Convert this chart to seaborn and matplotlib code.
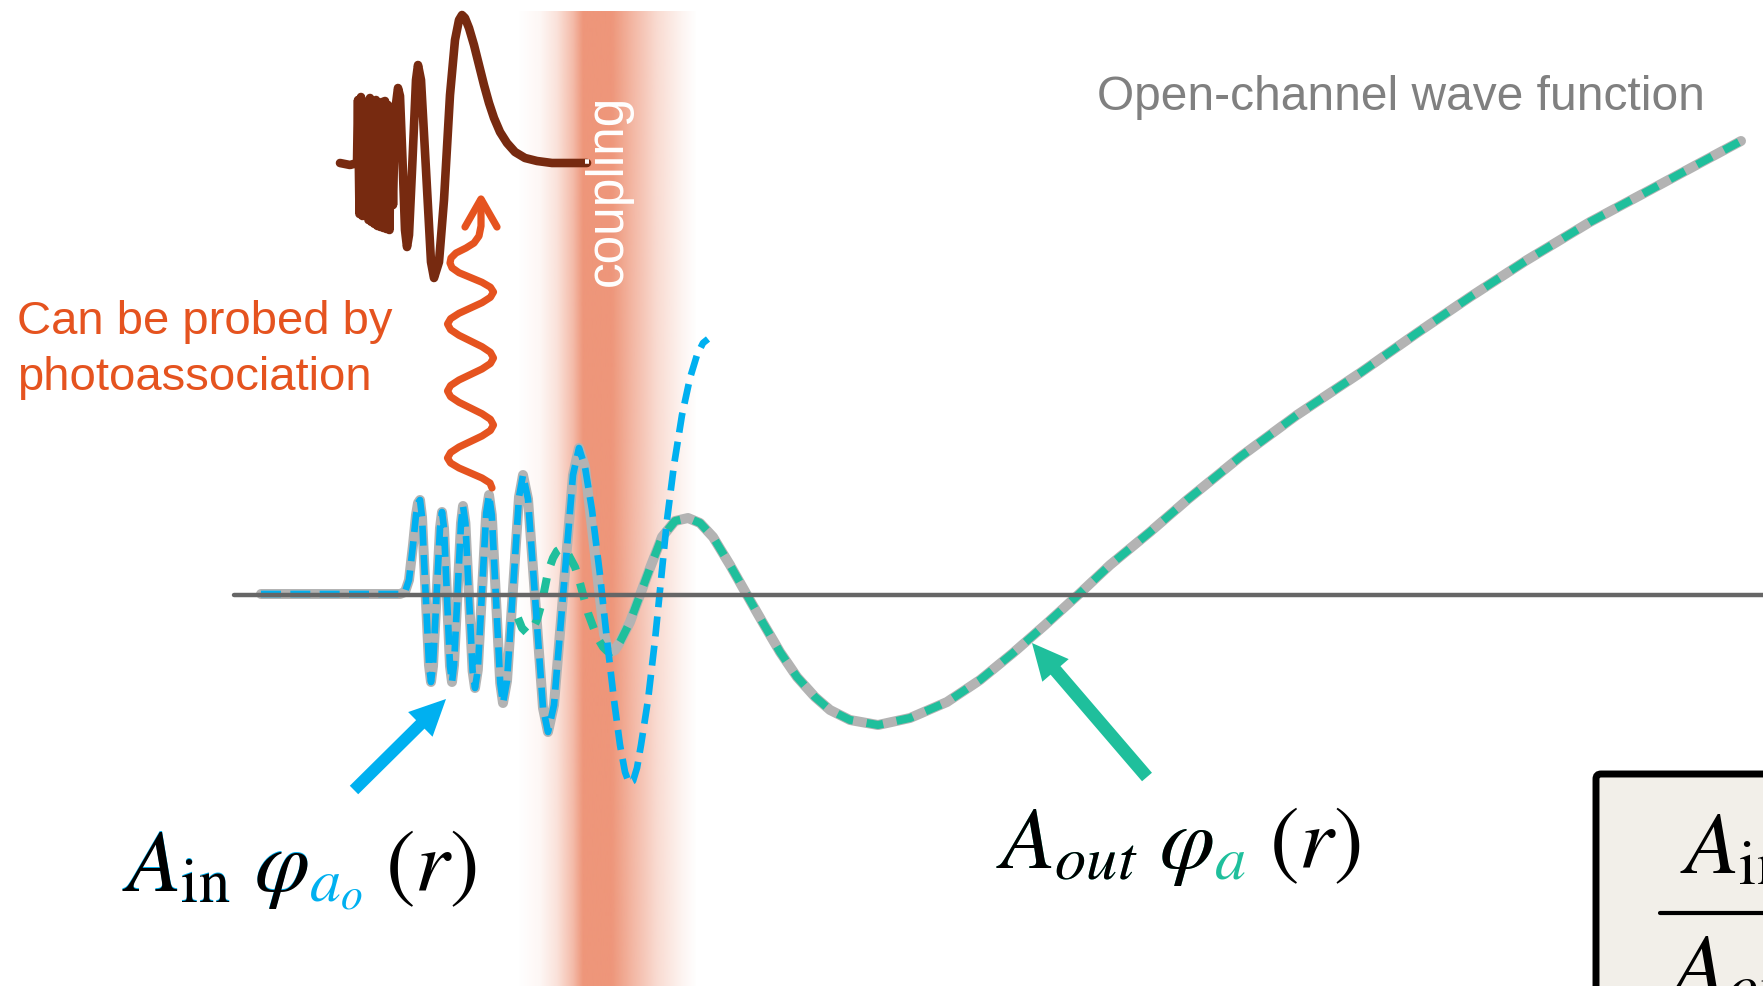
import numpy as np
import pandas as pd
import matplotlib
matplotlib.use("Agg")
import matplotlib.pyplot as plt
import seaborn as sns
from matplotlib.patches import FancyBboxPatch

# All values in image pixels (x to the right, y down)

# horizontal r axis
axis_x = [234, 1763]
axis_y = [595, 595]

# inner oscillations shared by the open-channel curve (grey) and phi_a0 (blue)
core_x = [261, 400, 405, 409, 413, 416, 418, 420,
          422, 425.5, 429, 431,
          433, 436.5, 440, 442,
          444, 447, 450, 452,
          454, 457.5, 461, 463,
          465.4, 469, 472.6, 475,
          477.8, 482, 486.2, 489,
          491.8, 496, 500.2, 503,
          507, 513, 519, 523,
          528, 535.5, 543, 548,
          554, 563.5, 573, 579,
          585]
core_y = [594, 594, 592, 580, 545, 515, 503, 500,
          517, 591, 665, 682,
          666, 597, 528, 512,
          528, 597, 666, 682,
          665, 594, 523, 506,
          523, 597, 671, 688,
          670, 591.5, 513, 495,
          515, 599, 683, 703,
          681, 589, 497, 475,
          499, 603.5, 708, 732,
          705, 590, 475, 448,
          467]

# open-channel wave function beyond the last inner peak
grey_tail_x = [594.5, 604, 607, 611, 615, 620, 630, 640, 650, 662, 675, 688,
               700, 713, 730, 747, 763, 780, 797, 815, 830, 850, 878,
               910, 947, 980, 1013, 1045, 1078, 1110, 1150, 1187, 1240,
               1297, 1360, 1417, 1470, 1527, 1590, 1650, 1700, 1741]
grey_tail_y = [550, 634, 645, 652, 650, 642, 622, 595, 568, 537, 521, 518,
               523, 537, 565, 595, 623, 652, 677, 697, 710, 720, 725,
               718, 702, 680, 653, 625, 595, 565, 532, 500, 457,
               415, 373, 333, 297, 260, 222, 190, 163, 141]

# phi_a0 beyond the last inner peak (blue dashed)
blue_tail_x = [592, 600, 607, 614, 620, 625, 629, 633, 637, 641, 648, 655,
               661, 667, 674, 682, 690, 697, 703, 708]
blue_tail_y = [510, 575, 640, 700, 745, 772, 783, 781, 768, 745, 700, 640,
               580, 520, 465, 415, 378, 355, 343, 339]

# phi_a start (green dashed), joins the grey curve at its trough
green_head_x = [518, 522, 527, 532, 537, 542, 548, 553, 557, 562, 568, 575,
                580, 588, 597, 603, 607]
green_head_y = [618, 628, 633, 630, 620, 602, 572, 558, 551, 548, 554, 567,
                583, 613, 637, 647, 651]

# closed-channel bound state (brown)
bound_x = [340, 350, 357, 358,
           359.5, 361, 362.5, 364, 365.5, 367, 368.5, 370, 371.5, 373,
           374.5, 376, 377.5, 379, 380.5, 382, 383.5, 385, 386.5, 388,
           389.5, 391, 393, 395, 398,
           400, 402.5, 405, 407, 409, 412.5, 416, 418,
           421, 426, 431, 434, 439, 444, 450, 455, 459, 462,
           465, 469, 474, 479, 484, 489, 494, 500, 507, 515, 525, 537,
           552, 587]
bound_y = [163, 165, 163, 100,
           214, 97, 216, 105, 214, 110, 220, 98, 222, 103,
           224, 100, 226, 104, 227, 102, 228, 101, 229, 105,
           230, 112, 205, 112, 88,
           96, 160, 230, 247, 235, 160, 80, 65,
           80, 170, 262, 278, 262, 200, 95, 40, 20, 15,
           18, 28, 45, 65, 85, 103, 118, 132, 143, 152, 158, 161,
           163, 163]

# photoassociation photon (orange wavy arrow), bottom to top
photon_x = [492, 490, 482, 470.5, 459, 450.6, 447.5,
            450.6, 459, 470.5, 482, 490.4, 493.5,
            490.4, 482, 470.5, 459, 450.6, 447.5,
            450.6, 459, 470.5, 482, 490.4, 493.5,
            490.4, 482, 470.5, 459, 450.6, 447.5,
            450.6, 459, 470.5, 482, 490.4, 493.5,
            490.4, 482, 470.5, 459, 452, 450,
            451, 456, 466, 474, 479, 481, 481, 481]
photon_y = [488, 483, 478, 473, 468, 463, 458,
            452.5, 447, 441.5, 436, 430.5, 425,
            419.3, 413.7, 408, 402.3, 396.7, 391,
            385.5, 380, 374.5, 369, 363.5, 358,
            352.3, 346.7, 341, 335.3, 329.7, 324,
            318.7, 313.3, 308, 302.7, 297.3, 292,
            287.2, 282.3, 277.5, 272.7, 267.8, 263,
            258, 253, 248, 243, 236, 226, 212, 200]
photon_head_x = [465, 481, 497]
photon_head_y = [227, 199, 227]

# coupling band opacity profile
band_x = [518, 540, 557, 573, 583, 612, 632, 657, 683, 697]
band_alpha = [0, 0.08, 0.28, 0.65, 1, 1, 0.7, 0.35, 0.1, 0]

# arrows (tail, tip)
blue_arrow = [(354, 790), (446, 699)]
green_arrow = [(1147, 777), (1032, 643)]

GREY = "#B3B3B3"
BLUE = "#00B0F0"
GREEN = "#1FBF9C"
BROWN = "#772A10"
ORANGE = "#E5531F"
BAND = "#EE967A"

sns.set_theme(style="white")
plt.rcParams["font.family"] = ["Liberation Sans", "DejaVu Sans"]
plt.rcParams["mathtext.fontset"] = "stix"

W, H = 1763, 986
fig = plt.figure(figsize=(W / 100, H / 100), dpi=100)
ax = fig.add_axes([0, 0, 1, 1])


def line(x, y, color, lw, z, dash=None):
    kws = dict(solid_capstyle="round", solid_joinstyle="round")
    if dash is not None:
        kws = dict(linestyle=(0, dash), dash_capstyle="butt", dash_joinstyle="round")
    sns.lineplot(x=x, y=y, sort=False, estimator=None, color=color,
                 linewidth=lw, ax=ax, zorder=z, **kws)


# coupling band
xs = np.linspace(band_x[0], band_x[-1], 400)
rgba = np.zeros((1, xs.size, 4))
rgba[0, :, :3] = matplotlib.colors.to_rgb(BAND)
rgba[0, :, 3] = np.interp(xs, band_x, band_alpha)
ax.imshow(rgba, extent=(band_x[0], band_x[-1], H, 11), aspect="auto",
          interpolation="bilinear", zorder=0)

# ratio box, bottom right
ax.add_patch(FancyBboxPatch((1596, 774), 400, 400,
                            boxstyle="round,pad=0,rounding_size=5",
                            fc="#F2EFE9", ec="black", lw=5, zorder=1))

# wave functions
grey_x = core_x + grey_tail_x
grey_y = core_y + grey_tail_y
i0 = grey_tail_x.index(611)
line(grey_x, grey_y, GREY, 7.2, 2)
line(green_head_x + grey_tail_x[i0:], green_head_y + grey_tail_y[i0:],
     GREEN, 5.8, 3, dash=(2.1, 1.7))
line(core_x + blue_tail_x, core_y + blue_tail_y, BLUE, 4.8, 3, dash=(3.0, 1.4))
line(axis_x, axis_y, "#666666", 3.2, 4)

line(bound_x, bound_y, BROWN, 6.2, 3)
line(photon_x, photon_y, ORANGE, 5.2, 3)
line(photon_head_x, photon_head_y, ORANGE, 5.2, 3)

# straight arrows
for (tail, tip), col, tw in [(blue_arrow, BLUE, 0.43), (green_arrow, GREEN, 0.47)]:
    ax.annotate("", xy=tip, xytext=tail, zorder=5,
                arrowprops=dict(arrowstyle=f"simple,head_length=1.3,head_width=1.25,tail_width={tw}",
                                color=col, lw=0, mutation_scale=20,
                                shrinkA=0, shrinkB=0))

# texts
ax.text(17, 334, "Can be probed by", color=ORANGE, fontsize=34, zorder=6)
ax.text(17, 390, "photoassociation", color=ORANGE, fontsize=34, zorder=6)
ax.text(1097, 110, "Open-channel wave function", color="#808080",
        fontsize=34.5, zorder=6)
ax.text(608, 190, "coupling", color="white", fontsize=37, rotation=90,
        ha="center", va="center", zorder=6)

renderer = fig.canvas.get_renderer()


def math_label(x, y, pre, sub, col, size=64):
    # coloured subscript: draw prefix+subscript in colour, prefix again in black on top
    t = ax.text(x, y, "$" + pre + sub + "$", color=col, fontsize=size,
                va="baseline", zorder=6)
    ax.text(x, y, "$" + pre + "$", color="black", fontsize=size,
            va="baseline", zorder=7)
    bb = t.get_window_extent(renderer)
    x_end = ax.transData.inverted().transform((bb.x1, bb.y0))[0]
    ax.text(x_end - 2, y, "$(r)$", color="black", fontsize=size,
            va="baseline", zorder=6)


math_label(122, 891, r"A_{\mathrm{in}}\ \varphi", r"_{a_o}", BLUE)
math_label(996, 868, r"A_{out}\ \varphi", r"_{a}", GREEN)

ax.text(1680, 873, r"$A_{\mathrm{in}}$", color="black", fontsize=64,
        va="baseline", zorder=6)
line([1660, 1763], [913, 913], "black", 3, 6)
ax.text(1668, 995, r"$A_{out}$", color="black", fontsize=64,
        va="baseline", zorder=6)

ax.set_xlim(0, W)
ax.set_ylim(H, 0)
ax.axis("off")

fig.savefig("out.png", dpi=100)
